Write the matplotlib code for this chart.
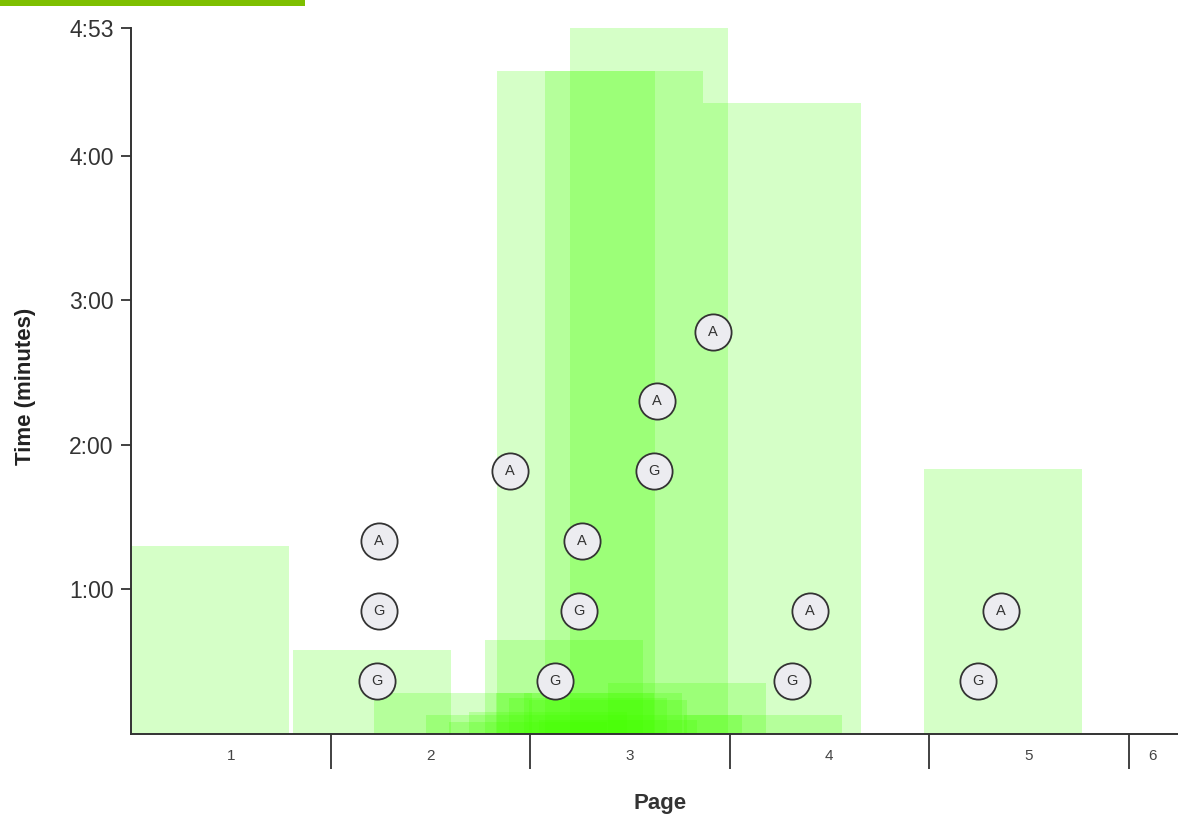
import matplotlib
matplotlib.use("Agg")
import matplotlib.pyplot as plt
from matplotlib.patches import Rectangle
from matplotlib.ticker import FixedLocator, NullFormatter

plt.rcParams['font.family'] = ['Liberation Sans', 'DejaVu Sans']

# ---- data (x in page units, 0 = start of page 1; times in seconds) ----
rect_start = [0.0, 0.812, 1.218, 1.479, 1.774, 1.835, 2.075, 2.201, 2.867, 3.975,
              1.970, 2.391, 2.772, 2.271, 1.830, 1.895, 1.594, 2.045, 1.694, 1.995]
rect_width = [0.792] * 20
rect_time = [78, 35, 17, 8, 39, 275, 275, 293, 262, 110,
             17, 21, 8, 8, 17, 15, 5, 6, 9, 14]

marker_x = [1.243, 1.243, 1.233, 1.900, 2.261, 2.246, 2.125, 2.637, 2.622, 2.917, 3.404, 3.313, 4.361, 4.246]
marker_y = [80, 51, 22, 109, 80, 51, 22, 138, 109, 167, 51, 22, 51, 22]
marker_label = ['A', 'G', 'G', 'A', 'A', 'G', 'G', 'A', 'G', 'A', 'A', 'G', 'A', 'G']

page_bounds = [1, 2, 3, 4, 5]
page_label_pos = [0.5, 1.5, 2.5, 3.5, 4.5, 5.12]
page_labels = ['1', '2', '3', '4', '5', '6']
ytick_vals = [60, 120, 180, 240, 293]
ytick_labels = ['1:00', '2:00', '3:00', '4:00', '4:53']

fig = plt.figure(figsize=(11.78, 8.18), dpi=100)
# decorative green header bar
fig.patches.append(Rectangle((0, 1 - 6 / 818), 305 / 1178, 6 / 818, transform=fig.transFigure,
                             facecolor='#7ebf00', edgecolor='none'))

ax = fig.add_axes([131 / 1178, 84 / 818, 1 - 131 / 1178, (734 - 28) / 818])

for x0, w, h in zip(rect_start, rect_width, rect_time):
    ax.add_patch(Rectangle((x0, 0), w, h, facecolor='#44ff00', alpha=0.22, edgecolor='none', zorder=1))

ax.scatter(marker_x, marker_y, s=680, facecolor='#ececf0', edgecolor='#333333', linewidths=1.3, zorder=3)
for x, y, t in zip(marker_x, marker_y, marker_label):
    ax.text(x, y, t, ha='center', va='center', fontsize=10.5, color='#333333', zorder=4)

ax.set_xlim(0, (1178 - 131) / 199.5)
ax.set_ylim(0, 293)

for s in ['top', 'right']:
    ax.spines[s].set_visible(False)
for s in ['left', 'bottom']:
    ax.spines[s].set_color('#333333')
    ax.spines[s].set_linewidth(1.4)

ax.set_yticks(ytick_vals)
ax.set_yticklabels(ytick_labels)
ax.tick_params(axis='y', length=7.5, width=1.3, color='#333333', labelsize=16.5, labelcolor='#333333', pad=5)

ax.xaxis.set_major_locator(FixedLocator(page_bounds))
ax.xaxis.set_major_formatter(NullFormatter())
ax.xaxis.set_minor_locator(FixedLocator(page_label_pos))
ax.set_xticks(page_label_pos, minor=True)
ax.set_xticklabels(page_labels, minor=True)
ax.tick_params(axis='x', which='major', length=25, width=1.3, color='#333333')
ax.tick_params(axis='x', which='minor', length=0, labelsize=11, labelcolor='#444444', pad=11)

fig.text(660 / 1178, 1 - 803 / 818, 'Page', fontsize=16, fontweight='bold', color='#333333',
         ha='center', va='center')
fig.text(26 / 1178, 1 - 386 / 818, 'Time (minutes)', fontsize=16, fontweight='bold', color='#222222',
         ha='center', va='center', rotation=90)

fig.savefig('out.png', dpi=100)
